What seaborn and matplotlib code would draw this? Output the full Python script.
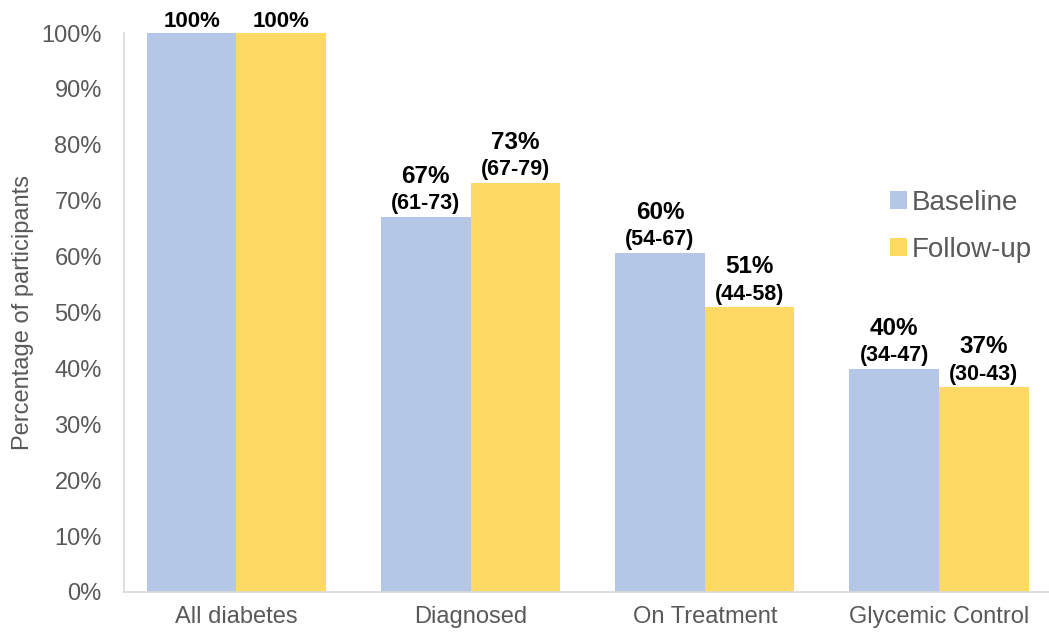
import matplotlib
matplotlib.use("Agg")
import matplotlib.pyplot as plt
import seaborn as sns
import pandas as pd
from matplotlib.ticker import FuncFormatter, MultipleLocator
from matplotlib.patches import Patch

categories = ["All diabetes", "Diagnosed", "On Treatment", "Glycemic Control"]
series = ["Baseline", "Follow-up"]
baseline = [100, 67.1, 60.6, 39.9]
followup = [100, 73.2, 50.9, 36.6]
baseline_pct = ["100%", "67%", "60%", "40%"]
followup_pct = ["100%", "73%", "51%", "37%"]
baseline_ci = ["", "(61-73)", "(54-67)", "(34-47)"]
followup_ci = ["", "(67-79)", "(44-58)", "(30-43)"]

colors = {"Baseline": "#B4C7E7", "Follow-up": "#FFD966"}
text_gray = "#595959"

df = pd.DataFrame({
    "Category": categories * 2,
    "Period": [series[0]] * 4 + [series[1]] * 4,
    "Value": baseline + followup,
})

sns.set_theme(style="white")
plt.rcParams["font.family"] = ["Liberation Sans", "DejaVu Sans"]

fig = plt.figure(figsize=(10.49, 6.33), dpi=100)
ax = fig.add_axes([124 / 1049, 41 / 633, (1049 - 124) / 1049, 559 / 633])

sns.barplot(data=df, x="Category", y="Value", hue="Period", order=categories,
            hue_order=series, palette=colors, width=0.765, gap=0,
            saturation=1, ax=ax, legend=False, errorbar=None, linewidth=0)

ax.set_xlim(-0.48, 3.47)
ax.set_ylim(0, 100)
ax.yaxis.set_major_locator(MultipleLocator(10))
ax.yaxis.set_major_formatter(FuncFormatter(lambda v, p: f"{v:.0f}%"))
ax.tick_params(axis="both", length=0, labelsize=17, colors=text_gray)
ax.tick_params(axis="y", pad=16)
ax.tick_params(axis="x", pad=10)
ax.set_xlabel("")
ax.set_ylabel("Percentage of participants", fontsize=17, color=text_gray)
ax.yaxis.set_label_coords((34 - 124) / 925, 0.5)

for s in ["top", "right"]:
    ax.spines[s].set_visible(False)
for s in ["left", "bottom"]:
    ax.spines[s].set_color("#D9D9D9")
    ax.spines[s].set_linewidth(1.2)

pcts = [baseline_pct, followup_pct]
cis = [baseline_ci, followup_ci]
for ci_idx, cont in enumerate(ax.containers):
    for j, bar in enumerate(cont):
        x = bar.get_x() + bar.get_width() / 2
        h = bar.get_height()
        ci = cis[ci_idx][j]
        if ci:
            ax.annotate(ci, (x, h), xytext=(0, 2), textcoords="offset points",
                        ha="center", va="bottom", fontsize=15.5, fontweight="bold",
                        color="black", annotation_clip=False)
            ax.annotate(pcts[ci_idx][j], (x, h), xytext=(0, 24.5), textcoords="offset points",
                        ha="center", va="baseline", fontsize=17.5, fontweight="bold",
                        color="black", annotation_clip=False)
        else:
            ax.annotate(pcts[ci_idx][j], (x, h), xytext=(0, 4), textcoords="offset points",
                        ha="center", va="baseline", fontsize=16, fontweight="bold",
                        color="black", annotation_clip=False)

handles = [Patch(facecolor=colors[s], edgecolor="none") for s in series]
ax.legend(handles, series, loc="upper left", bbox_to_anchor=(865 / 1049, 1 - 165 / 633),
          bbox_transform=fig.transFigure, frameon=False, fontsize=20,
          handlelength=0.6, handleheight=0.6, handletextpad=0.2, labelspacing=0.75,
          labelcolor=text_gray)

fig.savefig("out.png", dpi=100)
